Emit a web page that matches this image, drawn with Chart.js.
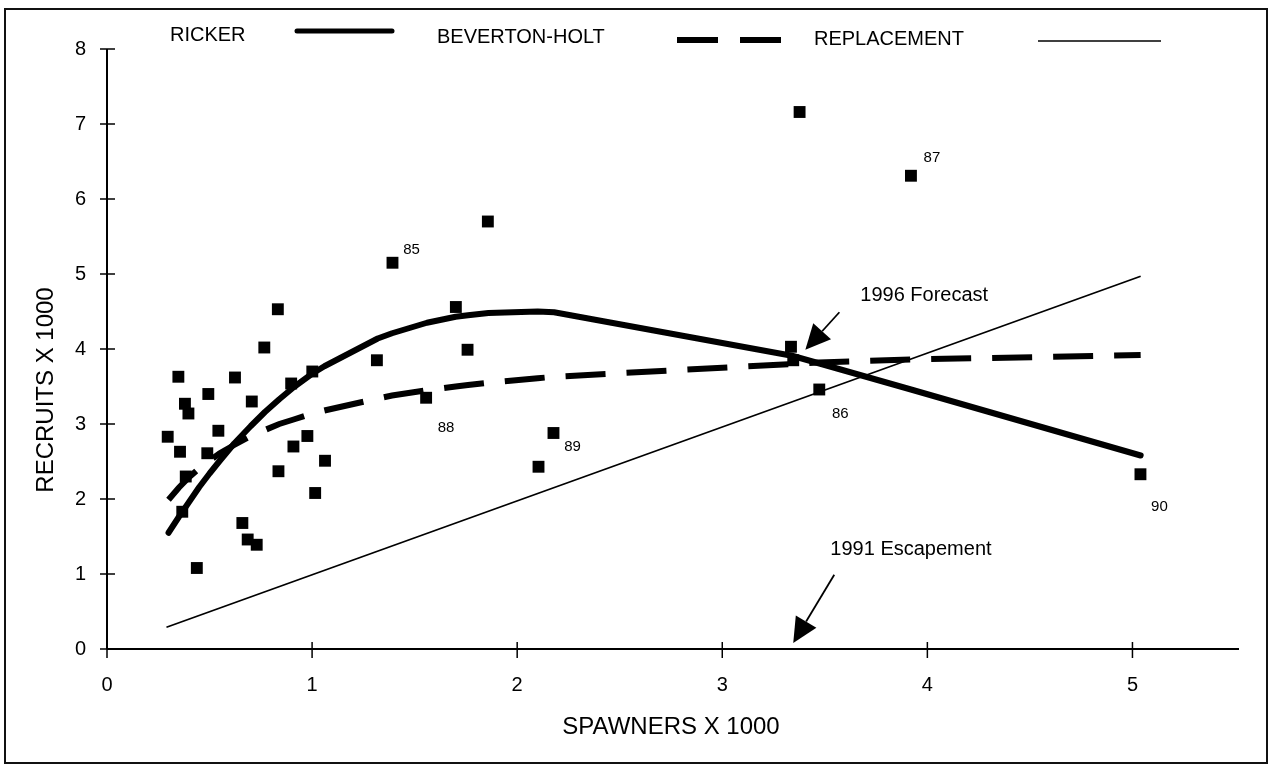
<!DOCTYPE html>
<html>
<head>
<meta charset="utf-8">
<title>Spawner-recruit curves</title>
<script src="https://cdn.jsdelivr.net/npm/chart.js@4/dist/chart.umd.min.js"></script>
<style>
  html, body { margin: 0; padding: 0; background: #fff; }
  canvas { display: block; }
</style>
</head>
<body>
<canvas id="chart" width="1271" height="768"></canvas>
<script>
// Observed spawners and recruits (thousands of fish)
const spawners = [0.296, 0.348, 0.356, 0.367, 0.380, 0.384, 0.397, 0.438, 0.489, 0.494,
                  0.543, 0.624, 0.660, 0.686, 0.706, 0.730, 0.767, 0.833, 0.836, 0.898,
                  0.909, 0.977, 1.001, 1.015, 1.063, 1.316, 1.392, 1.556, 1.701, 1.758,
                  1.857, 2.104, 2.177, 3.335, 3.346, 3.377, 3.473, 3.920, 5.039];
const recruits = [2.83, 3.63, 2.63, 1.83, 3.27, 2.30, 3.14, 1.08, 2.61, 3.40,
                  2.91, 3.62, 1.68, 1.46, 3.30, 1.39, 4.02, 4.53, 2.37, 3.54,
                  2.70, 2.84, 3.70, 2.08, 2.51, 3.85, 5.15, 3.35, 4.56, 3.99,
                  5.70, 2.43, 2.88, 4.03, 3.85, 7.16, 3.46, 6.31, 2.33];
// Brood-year tags shown next to some points
const broodYears = ['', '', '', '', '', '', '', '', '', '',
                    '', '', '', '', '', '', '', '', '', '',
                    '', '', '', '', '', '', '85', '88', '', '',
                    '', '', '89', '', '', '', '86', '87', '90'];

// Fitted curves evaluated at spawner levels
const fitSpawners   = [0.30, 0.35, 0.40, 0.45, 0.50, 0.55, 0.62, 0.70, 0.77, 0.84,
                       0.91, 1.00, 1.06, 1.32, 1.39, 1.56, 1.70, 1.76, 1.86, 2.10,
                       2.18, 3.34, 3.47, 3.92, 5.04];
const rickerFit     = [1.55, 1.76, 1.96, 2.16, 2.34, 2.51, 2.74, 2.97, 3.16, 3.33,
                       3.49, 3.67, 3.77, 4.14, 4.21, 4.35, 4.43, 4.45, 4.48, 4.50,
                       4.49, 3.91, 3.81, 3.46, 2.58];
const bevHoltFit    = [1.99, 2.15, 2.29, 2.41, 2.51, 2.61, 2.72, 2.84, 2.92, 3.00,
                       3.06, 3.14, 3.18, 3.34, 3.38, 3.45, 3.50, 3.52, 3.55, 3.61,
                       3.63, 3.80, 3.82, 3.86, 3.92];
const replacementSpawners = [0.29, 5.04];
const replacementRecruits = [0.29, 4.97];

// Axis ticks
const xTicks = [0, 1, 2, 3, 4, 5];
const yTicks = [0, 1, 2, 3, 4, 5, 6, 7, 8];

const FONT = '"Liberation Sans", Arial, Helvetica, sans-serif';
Chart.defaults.font.family = FONT;
Chart.defaults.color = '#000';

const pairs = (xs, ys) => xs.map((v, i) => ({ x: v, y: ys[i] }));

// Offsets (px) of the brood-year tags from their points
const tagOffset = { '85': [19, -13], '88': [20, 30], '89': [19, 14], '86': [21, 24], '87': [21, -18], '90': [19, 33] };

// Text notes with arrows, anchored in data units
const notes = [
  { text: '1996 Forecast',   at: [3.673, 4.72], tail: [3.571, 4.49], tip: [3.405, 3.99] },
  { text: '1991 Escapement', at: [3.527, 1.33], tail: [3.546, 0.99], tip: [3.346, 0.08] }
];

function line(ctx, x1, y1, x2, y2) {
  ctx.beginPath(); ctx.moveTo(x1, y1); ctx.lineTo(x2, y2); ctx.stroke();
}

function arrow(ctx, x1, y1, x2, y2) {
  const ang = Math.atan2(y2 - y1, x2 - x1);
  const len = 25, half = 12;
  const bx = x2 - len * Math.cos(ang), by = y2 - len * Math.sin(ang);
  ctx.lineWidth = 1.8;
  line(ctx, x1, y1, bx, by);
  ctx.beginPath();
  ctx.moveTo(x2, y2);
  ctx.lineTo(bx + half * Math.sin(ang), by - half * Math.cos(ang));
  ctx.lineTo(bx - half * Math.sin(ang), by + half * Math.cos(ang));
  ctx.closePath();
  ctx.fill();
}

const decorations = {
  id: 'decorations',
  beforeDraw(chart) {
    const ctx = chart.ctx;
    ctx.save();
    ctx.fillStyle = '#fff';
    ctx.fillRect(0, 0, chart.width, chart.height);
    ctx.strokeStyle = '#111';
    ctx.lineWidth = 2;
    ctx.strokeRect(5, 9, 1262, 754);
    ctx.restore();
  },
  afterDraw(chart) {
    const { ctx, scales: { x, y } } = chart;
    ctx.save();
    ctx.strokeStyle = '#000';
    ctx.fillStyle = '#000';

    // axis lines
    ctx.lineWidth = 2;
    line(ctx, x.left, y.top, x.left, y.bottom);
    line(ctx, x.left, y.bottom, x.right + 4, y.bottom);

    // tick marks crossing the axes
    ctx.lineWidth = 1.5;
    xTicks.forEach(v => { const px = x.getPixelForValue(v); line(ctx, px, y.bottom - 7, px, y.bottom + 9); });
    yTicks.forEach(v => { const py = y.getPixelForValue(v); line(ctx, x.left - 7, py, x.left + 8, py); });

    // brood-year tags
    ctx.font = '15px ' + FONT;
    ctx.textAlign = 'center';
    ctx.textBaseline = 'middle';
    broodYears.forEach((tag, i) => {
      if (!tag) return;
      const [dx, dy] = tagOffset[tag];
      ctx.fillText(tag, x.getPixelForValue(spawners[i]) + dx, y.getPixelForValue(recruits[i]) + dy);
    });

    // notes with arrows
    ctx.font = '20px ' + FONT;
    ctx.textAlign = 'left';
    notes.forEach(n => {
      ctx.fillText(n.text, x.getPixelForValue(n.at[0]), y.getPixelForValue(n.at[1]));
      arrow(ctx, x.getPixelForValue(n.tail[0]), y.getPixelForValue(n.tail[1]),
                 x.getPixelForValue(n.tip[0]), y.getPixelForValue(n.tip[1]));
    });

    // legend row
    ctx.font = '20px ' + FONT;
    ctx.fillText('RICKER', 170, 35);
    ctx.lineCap = 'round';
    ctx.lineWidth = 5;
    line(ctx, 297, 31, 392, 31);
    ctx.lineCap = 'butt';
    ctx.fillText('BEVERTON-HOLT', 437, 37);
    ctx.lineWidth = 6;
    line(ctx, 677, 40, 718, 40);
    line(ctx, 740, 40, 781, 40);
    ctx.fillText('REPLACEMENT', 814, 39);
    ctx.lineWidth = 1.5;
    line(ctx, 1038, 41, 1161, 41);

    // axis titles
    ctx.font = '24px ' + FONT;
    ctx.textAlign = 'center';
    ctx.fillText('SPAWNERS X 1000', (x.left + x.right) / 2, y.bottom + 78);
    ctx.translate(46, y.top + 341);
    ctx.rotate(-Math.PI / 2);
    ctx.fillText('RECRUITS X 1000', 0, 0);
    ctx.restore();
  }
};

new Chart(document.getElementById('chart'), {
  type: 'scatter',
  data: {
    datasets: [
      {
        label: 'Observed',
        data: pairs(spawners, recruits),
        pointStyle: 'rect',
        pointRadius: 8.4,
        pointBorderWidth: 0,
        backgroundColor: '#000',
        borderColor: '#000',
        showLine: false
      },
      {
        label: 'RICKER',
        data: pairs(fitSpawners, rickerFit),
        showLine: true,
        borderColor: '#000',
        borderWidth: 6,
        pointRadius: 0,
        tension: 0,
        borderJoinStyle: 'round',
        borderCapStyle: 'round'
      },
      {
        label: 'BEVERTON-HOLT',
        data: pairs(fitSpawners, bevHoltFit),
        showLine: true,
        borderColor: '#000',
        borderWidth: 6,
        borderDash: [40, 21],
        pointRadius: 0,
        tension: 0
      },
      {
        label: 'REPLACEMENT',
        data: pairs(replacementSpawners, replacementRecruits),
        showLine: true,
        borderColor: '#000',
        borderWidth: 1.8,
        pointRadius: 0
      }
    ]
  },
  options: {
    responsive: false,
    animation: false,
    devicePixelRatio: 1,
    layout: { padding: { left: 0, right: 36, top: 49, bottom: 0 } },
    plugins: { legend: { display: false }, tooltip: { enabled: false } },
    scales: {
      x: {
        type: 'linear', min: 0, max: 5.5,
        afterBuildTicks: s => { s.ticks = xTicks.map(v => ({ value: v })); },
        afterFit: s => { s.height = 119; },
        ticks: { font: { size: 20 }, color: '#000', padding: 24 },
        grid: { display: false, drawTicks: false },
        border: { display: false }
      },
      y: {
        type: 'linear', min: 0, max: 8,
        afterBuildTicks: s => { s.ticks = yTicks.map(v => ({ value: v })); },
        afterFit: s => { s.width = 107; },
        ticks: { font: { size: 20 }, color: '#000', padding: 21 },
        grid: { display: false, drawTicks: false },
        border: { display: false }
      }
    }
  },
  plugins: [decorations]
});
</script>
</body>
</html>
